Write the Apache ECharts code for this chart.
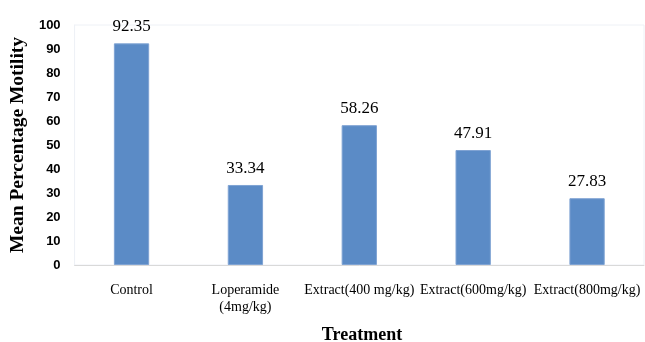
<!DOCTYPE html>
<html>
<head>
<meta charset="utf-8">
<script src="https://cdn.jsdelivr.net/npm/echarts@6/dist/echarts.min.js"></script>
<style>html,body{margin:0;padding:0;background:#fff}#c{width:645px;height:342px}</style>
</head>
<body>
<div id="c"></div>
<script>
const categories = ["Control", "Loperamide\n(4mg/kg)", "Extract(400 mg/kg)", "Extract(600mg/kg)", "Extract(800mg/kg)"];
const values = [92.35, 33.34, 58.26, 47.91, 27.83];
const yTicks = [0, 10, 20, 30, 40, 50, 60, 70, 80, 90, 100];

const chart = echarts.init(document.getElementById('c'), null, {renderer: 'canvas'});
chart.setOption({
  animation: false,
  backgroundColor: '#fff',
  grid: {left: 67, right: 1, top: 25, bottom: 77, show: true, borderColor: '#eef1f6', borderWidth: 1},
  title: {
    text: 'Treatment', left: 357, top: 321, textAlign: 'center',
    textStyle: {fontFamily: 'Liberation Serif', fontWeight: 'bold', fontSize: 18, color: '#000'}
  },
  xAxis: {
    type: 'category', data: categories,
    axisLine: {show: true, lineStyle: {color: '#d9d9d9', width: 1}},
    axisTick: {show: false},
    axisLabel: {interval: 0, margin: 17, fontFamily: 'Liberation Serif', fontSize: 14, color: '#000', lineHeight: 17}
  },
  yAxis: {
    type: 'value', min: yTicks[0], max: yTicks[yTicks.length - 1], interval: 10,
    name: 'Mean Percentage Motility', nameLocation: 'middle', nameGap: 44, nameRotate: 90,
    nameTextStyle: {fontFamily: 'Liberation Serif', fontWeight: 'bold', fontSize: 19.5, color: '#000'},
    axisLine: {show: true, lineStyle: {color: '#eef1f6'}},
    axisTick: {show: false},
    splitLine: {show: false},
    axisLabel: {margin: 14, fontFamily: 'Liberation Sans', fontWeight: 'bold', fontSize: 13, color: '#000'}
  },
  series: [{
    type: 'bar', data: values, barWidth: '31%',
    itemStyle: {color: '#5b8bc6', borderColor: '#7fa3d3', borderWidth: 1},
    label: {show: true, position: 'top', distance: 8, fontFamily: 'Liberation Serif', fontSize: 17, color: '#000',
      formatter: p => p.value.toFixed(2)}
  }]
});
</script>
</body>
</html>
